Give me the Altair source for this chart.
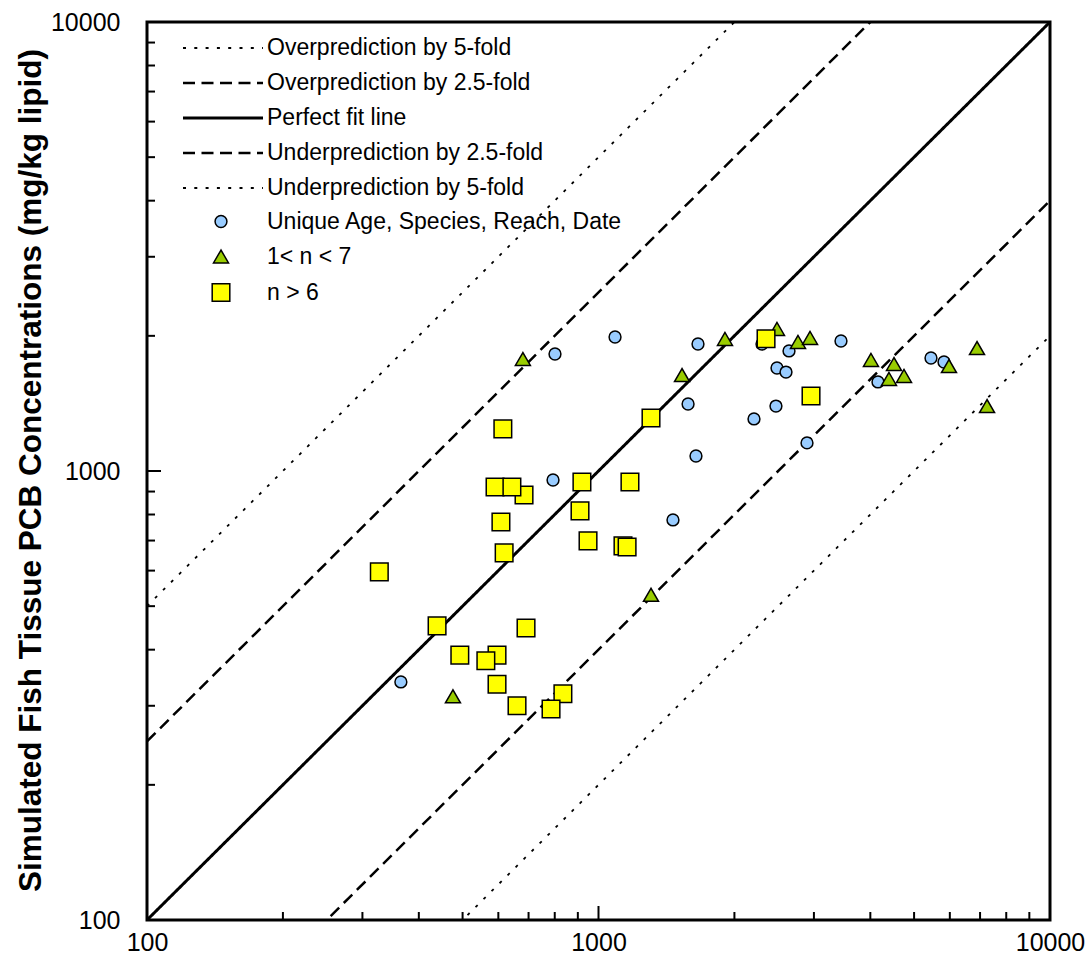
import altair as alt
import pandas as pd

obs_circle = [365, 801, 1088, 793, 1661, 1579, 1644, 1462, 2210, 2302, 2642, 2485,
              2602, 2472, 2896, 3444, 4159, 5450, 5824]
sim_circle = [339, 1822, 1988, 955, 1918, 1410, 1080, 778, 1306, 1918, 1851, 1696,
              1661, 1395, 1155, 1948, 1579, 1785, 1749]
obs_tri = [680, 476, 1307, 1531, 1906, 2485, 2766, 2941, 4013, 4513, 4399, 4750,
           5974, 6892, 7254]
sim_tri = [1776, 315, 530, 1636, 1968, 2072, 1938, 1978, 1767, 1731, 1603, 1628,
           1713, 1879, 1395]
obs_sq = [2350, 2956, 1307, 614, 590, 684, 643, 919, 1174, 910, 608, 948, 1133,
          1157, 618, 327, 439, 691, 493, 596, 563, 596, 660, 834, 785]
sim_sq = [1970, 1469, 1312, 1241, 921, 884, 921, 945, 945, 815, 770, 699, 681,
          677, 657, 596, 452, 447, 389, 389, 378, 335, 300, 319, 295]

group_labels = ["Unique Age, Species, Reach, Date", "1< n < 7", "n > 6"]

line_labels = ["Overprediction by 5-fold", "Overprediction by 2.5-fold",
               "Perfect fit line", "Underprediction by 2.5-fold",
               "Underprediction by 5-fold"]
line_factors = [5, 2.5, 1, 0.4, 0.2]
line_x_ends = [100, 10000]

axis_values = [100, 1000, 10000]
minor_ticks = [200, 300, 400, 500, 600, 700, 800, 900,
               2000, 3000, 4000, 5000, 6000, 7000, 8000, 9000]
major_ticks = [1000]

# ---- styles ----
FONT = "Liberation Sans"
dashes = [[3, 8.3], [12, 6.5], [1, 0], [12, 6.5], [3, 8.3]]
widths = [1.8, 2.5, 3, 2.5, 1.8]
group_fill = ["#99CCFF", "#99CC00", "#FFFF00"]
group_stroke = ["black", "black", "black"]
group_shape = ["circle", "triangle-up", "square"]
group_size_ends = [140, 310]

W, H = 903, 898

# ---- tables ----
pts = pd.DataFrame(
    [(o, s, group_labels[0]) for o, s in zip(obs_circle, sim_circle)]
    + [(o, s, group_labels[1]) for o, s in zip(obs_tri, sim_tri)]
    + [(o, s, group_labels[2]) for o, s in zip(obs_sq, sim_sq)],
    columns=["obs", "sim", "group"],
)
lines_df = pd.DataFrame(
    [(lab, x, x * f, w) for lab, f, w in zip(line_labels, line_factors, widths)
     for x in line_x_ends],
    columns=["series", "obs", "sim", "sw"],
)
minor_df = pd.DataFrame({"v": minor_ticks})
major_df = pd.DataFrame({"v": major_ticks})

xscale = alt.Scale(type="log", domain=[100, 10000], nice=False)
yscale = alt.Scale(type="log", domain=[100, 10000], nice=False)

xaxis = alt.Axis(values=axis_values, format="d", ticks=False, domain=False, grid=False,
                 labelFontSize=25, labelFont=FONT, labelColor="black", labelPadding=10,
                 labelFlush=False, labelOverlap=False, labelBound=False, title=None)
yaxis = alt.Axis(values=axis_values, format="d", ticks=False, domain=False, grid=False,
                 labelFontSize=25, labelFont=FONT, labelColor="black", labelPadding=27,
                 labelFlush=False, labelOverlap=False, labelBound=False,
                 title="Simulated Fish Tissue PCB Concentrations (mg/kg lipid)",
                 titleFont=FONT, titleFontSize=31.5, titleFontWeight="bold",
                 titleColor="black", titleAngle=-90, titleX=-116, titleY=448,
                 titleAlign="center", titleBaseline="middle")

# legend symbol stroke widths follow the same order as the lines
sw_expr = " : ".join(
    f"datum.value === '{lab}' ? {w}" for lab, w in zip(line_labels, widths)
) + " : 1.6"

line_legend = alt.Legend(title=None, orient="none", legendX=64.5, legendY=14.5,
                         symbolType="M-4,0H4", symbolSize=400, symbolStrokeColor="black",
                         symbolFillColor="transparent",
                         symbolStrokeWidth=alt.ExprRef(expr=sw_expr),
                         labelFont=FONT, labelFontSize=23, labelColor="black",
                         labelOffset=32.5, rowPadding=11, padding=0, labelLimit=0)

lines = alt.Chart(lines_df).mark_line(clip=True, color="black").encode(
    x=alt.X("obs:Q", scale=xscale, axis=xaxis),
    y=alt.Y("sim:Q", scale=yscale, axis=yaxis),
    strokeDash=alt.StrokeDash("series:N", scale=alt.Scale(domain=line_labels, range=dashes),
                              legend=line_legend),
    strokeWidth=alt.StrokeWidth("sw:Q", scale=None, legend=None),
)

x_minor = alt.Chart(minor_df).mark_rule(color="black", strokeWidth=2).encode(
    x=alt.X("v:Q", scale=xscale), y=alt.value(H), y2=alt.value(H - 8))
x_major = alt.Chart(major_df).mark_rule(color="black", strokeWidth=2).encode(
    x=alt.X("v:Q", scale=xscale), y=alt.value(H), y2=alt.value(H - 14))
y_minor = alt.Chart(minor_df).mark_rule(color="black", strokeWidth=2).encode(
    y=alt.Y("v:Q", scale=yscale), x=alt.value(0), x2=alt.value(8))
y_major = alt.Chart(major_df).mark_rule(color="black", strokeWidth=2).encode(
    y=alt.Y("v:Q", scale=yscale), x=alt.value(0), x2=alt.value(14))

point_legend = alt.Legend(title=None, orient="none", legendX=62.5, legendY=188,
                          symbolStrokeColor="black", symbolStrokeWidth=1.5,
                          labelFont=FONT, labelFontSize=23, labelColor="black",
                          labelOffset=34.5, rowPadding=11, padding=0, labelLimit=0)

points = alt.Chart(pts).mark_point(filled=True, strokeWidth=1.5, opacity=1).encode(
    x=alt.X("obs:Q", scale=xscale),
    y=alt.Y("sim:Q", scale=yscale),
    shape=alt.Shape("group:N", scale=alt.Scale(domain=group_labels, range=group_shape),
                    legend=point_legend),
    fill=alt.Fill("group:N", scale=alt.Scale(domain=group_labels, range=group_fill),
                  legend=point_legend),
    stroke=alt.Stroke("group:N", scale=alt.Scale(domain=group_labels, range=group_stroke),
                      legend=point_legend),
    size=alt.Size("group:N", scale=alt.Scale(domain=group_labels, range=group_size_ends),
                  legend=point_legend),
)

chart = alt.layer(lines, x_minor, x_major, y_minor, y_major, points).properties(
    width=W, height=H,
    autosize=alt.AutoSizeParams(type="none"),
    padding={"left": 147, "top": 22, "right": 41, "bottom": 59},
    background="white",
).configure_view(stroke="black", strokeWidth=3)

chart.save("out.html", embed_options={"renderer": "svg", "actions": False})
